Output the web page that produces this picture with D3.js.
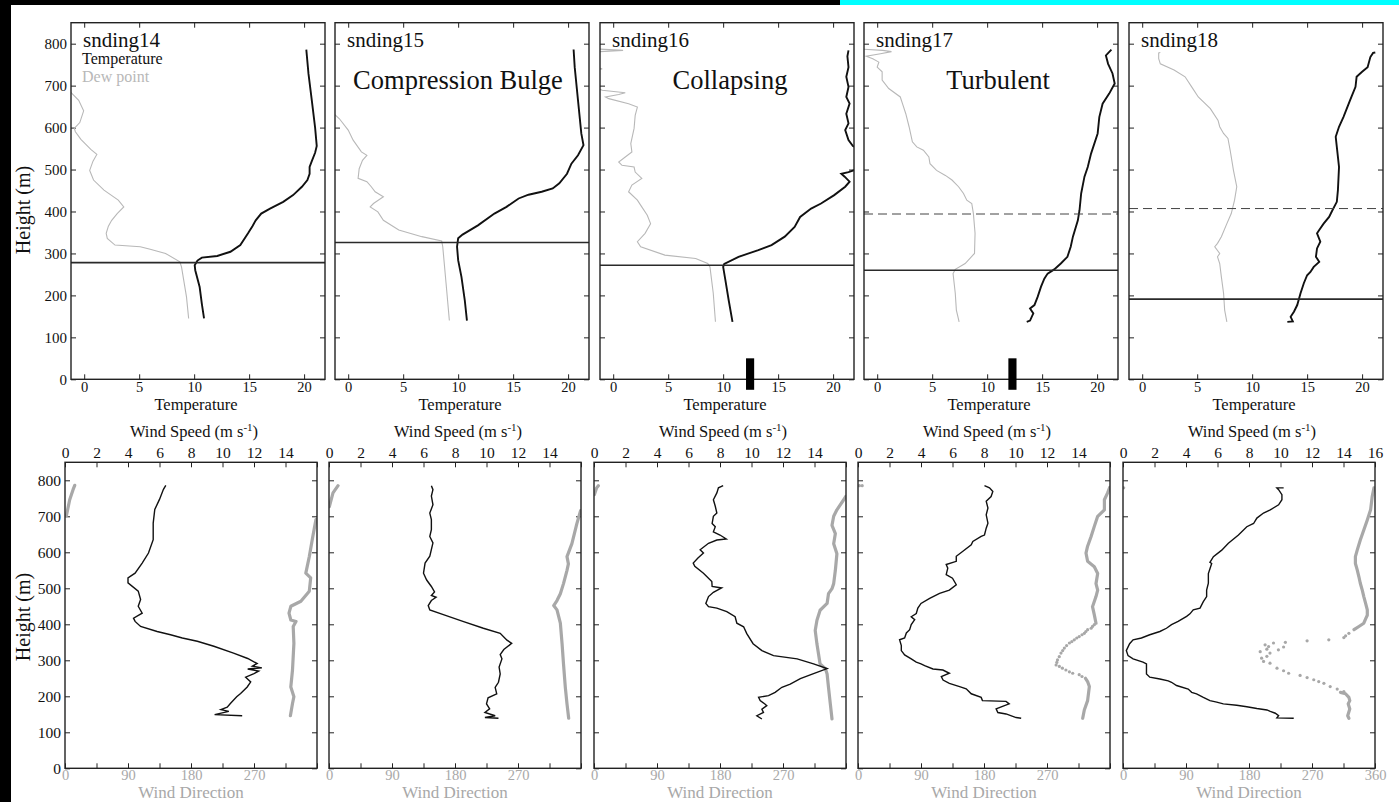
<!DOCTYPE html>
<html>
<head>
<meta charset="utf-8">
<script src="https://cdn.jsdelivr.net/npm/d3@7"></script>
<style>
  html, body { margin: 0; padding: 0; background: #fff; }
  svg { display: block; font-family: "Liberation Serif", "Times New Roman", serif; }
</style>
</head>
<body>
<svg id="chart" width="1399" height="802"></svg>
<script>
// ---- labels & ticks ----
const soundings = ["snding14", "snding15", "snding16", "snding17", "snding18"];
const regimes = ["", "Compression Bulge", "Collapsing", "Turbulent", ""];
const tempTicks = [0, 5, 10, 15, 20];
const heightTicks = [0, 100, 200, 300, 400, 500, 600, 700, 800];
const speedTicks = [0, 2, 4, 6, 8, 10, 12, 14, 16];
const dirTicks = [0, 45, 90, 135, 180, 225, 270, 315, 360];

// inversion heights (m) and the black markers on the temperature axis
const inversionSolid = [278, 326, 272, 260, 191];
const inversionDashed = [null, null, null, 394, 407];
const markerTemp = [null, null, 12.45, 12.3, null];
const markerRange = [-25, 50];

// ---- temperature profiles [height, degC] ----
const temp14 = [[145,10.9],[180,10.7],[220,10.5],[260,10.1],[272,10.05],[283,10.3],[290,10.7],[294,12.1],[304,13.3],[320,14.2],[348,14.9],[365,15.3],[379,15.6],[395,16.1],[407,16.9],[423,18.1],[439,19.0],[459,19.8],[475,20.3],[490,20.5],[506,20.5],[520,20.7],[540,21.0],[556,21.15],[600,21.0],[665,20.7],[728,20.4],[786,20.2]];
const dew14 = [[145,9.5],[197,9.3],[268,8.85],[280,8.7],[300,7.4],[310,6.0],[316,5.1],[320,2.8],[336,2.1],[348,2.0],[365,2.2],[379,2.5],[395,3.0],[411,3.6],[427,3.1],[451,1.8],[475,0.85],[498,0.5],[520,0.8],[536,1.15],[548,0.6],[572,-0.3],[590,-0.8],[598,-0.9],[612,-0.4],[640,-0.05],[665,-0.5],[681,-1.1],[700,-1.8]];

const temp15 = [[140,10.8],[189,10.6],[244,10.3],[284,10.0],[316,9.9],[336,10.0],[345,10.4],[367,11.8],[395,13.3],[411,14.4],[431,15.5],[440,16.4],[447,17.6],[455,18.6],[467,19.2],[490,19.9],[514,20.3],[534,20.9],[558,21.4],[586,21.2],[665,20.9],[744,20.6],[786,20.5]];
const dew15 = [[140,9.2],[229,8.9],[316,8.6],[330,8.5],[340,6.7],[356,4.6],[379,3.2],[399,2.7],[411,2.0],[419,2.3],[435,3.2],[447,2.45],[459,2.1],[471,1.7],[479,0.9],[502,1.0],[522,1.3],[534,1.7],[542,1.2],[570,0.45],[594,0.0],[621,-0.8],[640,-1.6]];

const temp16 = [[137,10.85],[189,10.5],[237,10.2],[268,10.0],[275,10.1],[292,11.4],[308,13.2],[320,14.4],[340,15.6],[363,16.5],[387,17.0],[407,18.0],[419,18.9],[439,20.1],[459,21.1],[471,21.5],[483,21.05],[490,20.75],[494,21.4],[500,22.1],[525,22.8],[550,22.3],[556,21.8],[570,21.4],[594,21.1],[610,21.4],[633,21.2],[657,21.5],[673,21.2],[697,21.4],[721,21.2],[744,21.4],[770,21.3],[784,21.4]];
const dew16 = [[137,9.3],[205,9.1],[268,8.8],[276,8.6],[288,7.5],[296,4.7],[316,2.5],[328,2.2],[348,2.9],[371,3.4],[391,3.1],[411,2.6],[427,2.2],[447,1.4],[463,1.7],[479,2.6],[494,2.0],[506,1.9],[510,0.8],[518,0.5],[530,1.1],[542,1.7],[562,1.6],[598,1.9],[629,2.0],[649,2.2],[657,1.4],[669,-0.4],[673,-0.7],[679,0.5],[683,1.1],[689,-1.0],[700,-2.0],[735,-2.0],[740,-1.0],[745,-2.0],[780,-2.0],[784,0.9],[788,-2.0]];

const temp17 = [[137,13.6],[140,13.9],[157,14.2],[169,13.9],[177,14.3],[197,14.6],[221,14.9],[240,15.2],[252,15.5],[262,16.1],[276,16.7],[292,17.3],[316,17.6],[340,17.8],[379,18.25],[403,18.4],[443,18.55],[483,18.85],[506,19.15],[538,19.45],[586,20.05],[625,20.2],[657,20.5],[681,21.1],[705,21.6],[729,21.4],[752,21.0],[772,20.8],[786,21.3]];
const dew17 = [[137,7.45],[165,7.2],[205,7.1],[252,6.9],[262,7.1],[276,8.0],[300,8.85],[348,8.9],[395,8.75],[419,8.6],[427,8.15],[443,7.85],[459,7.4],[475,6.8],[486,6.2],[498,5.4],[514,4.8],[530,4.7],[546,4.2],[554,3.6],[566,3.2],[602,2.9],[633,2.6],[657,2.3],[673,2.1],[693,1.05],[713,0.45],[733,0.45],[744,0.0],[756,0.15],[764,-0.4],[770,-1.0],[776,0.3],[781,1.3],[784,0.5],[787,-1.5]];

const temp18 = [[137,13.2],[138,13.7],[149,13.5],[161,13.8],[177,14.1],[205,14.4],[229,14.7],[248,15.0],[256,15.3],[268,15.6],[280,16.1],[292,15.8],[312,15.9],[328,16.2],[348,15.9],[356,16.1],[371,16.5],[387,17.0],[403,17.3],[423,17.7],[451,17.8],[506,17.9],[554,17.7],[578,17.6],[602,17.9],[625,18.3],[665,18.9],[697,19.4],[721,19.5],[733,20.0],[744,20.5],[768,20.75],[778,21.0],[779,21.2]];
const dew18 = [[137,7.7],[165,7.5],[205,7.4],[244,7.2],[276,7.05],[292,6.85],[300,7.05],[316,6.6],[324,6.85],[340,7.2],[371,7.7],[395,8.1],[427,8.4],[459,8.6],[498,8.3],[546,8.0],[574,7.8],[586,7.4],[602,7.05],[617,6.9],[645,6.2],[673,5.1],[697,4.5],[721,3.9],[737,2.9],[752,1.65],[764,1.5],[778,1.5],[779,1.65]];

// ---- wind speed [height, m/s] ----
const speed14 = [[146,11.25],[149,9.5],[158,10.4],[163,9.9],[170,10.3],[180,10.5],[199,10.9],[208,11.15],[226,11.57],[240,11.79],[253,11.47],[263,12.0],[270,12.3],[276,11.6],[279,12.5],[284,11.9],[291,12.2],[305,11.6],[320,10.7],[339,9.45],[353,8.4],[362,7.45],[371,6.7],[380,5.85],[394,4.8],[408,4.45],[417,4.35],[431,4.9],[450,4.65],[469,4.8],[492,4.65],[515,4.0],[529,4.0],[542,4.45],[570,4.9],[598,5.3],[635,5.6],[681,5.6],[719,5.7],[747,6.0],[775,6.25],[786,6.4]];
const speed15 = [[139,10.76],[141,9.9],[146,10.55],[155,9.9],[165,10.2],[179,10.0],[196,10.1],[207,10.65],[225,10.55],[239,10.76],[262,10.87],[281,10.8],[304,10.98],[316,10.87],[330,11.1],[347,11.6],[356,11.3],[375,10.87],[389,9.8],[408,8.5],[427,7.26],[440,6.4],[452,6.3],[466,6.5],[475,6.8],[480,6.5],[490,6.7],[505,6.5],[523,6.2],[542,6.0],[570,6.1],[589,6.4],[626,6.6],[644,6.4],[663,6.5],[691,6.5],[709,6.4],[732,6.6],[756,6.5],[774,6.6],[785,6.5]];
const speed16 = [[137,10.66],[146,10.34],[155,10.76],[164,10.66],[174,10.97],[178,10.87],[188,10.55],[197,10.45],[202,11.08],[211,11.5],[225,11.93],[234,12.46],[249,13.1],[263,13.94],[277,14.8],[290,13.94],[304,12.9],[313,11.4],[327,10.66],[346,10.1],[374,9.7],[393,9.5],[403,9.07],[421,8.96],[435,8.43],[445,7.8],[449,7.27],[458,7.1],[477,7.27],[489,7.58],[501,8.1],[505,7.5],[519,7.48],[542,6.95],[561,6.4],[570,6.3],[584,6.6],[598,6.95],[607,6.74],[625,7.27],[634,7.8],[637,8.4],[648,8.0],[657,7.58],[671,7.7],[680,7.5],[700,7.58],[709,7.8],[728,7.7],[746,7.58],[765,7.8],[779,7.9],[785,8.2]];
const speed17 = [[139,10.36],[141,10.04],[151,9.4],[155,8.88],[165,8.77],[174,9.3],[179,9.6],[186,9.4],[188,7.9],[197,7.82],[207,7.19],[221,6.87],[227,6.45],[236,5.8],[245,5.4],[255,5.29],[264,5.8],[273,5.39],[276,4.76],[285,4.23],[290,4.0],[295,3.7],[304,3.38],[315,2.96],[327,2.75],[341,2.75],[357,2.64],[362,2.96],[376,3.07],[385,3.28],[399,3.38],[413,3.6],[421,3.38],[430,3.7],[445,3.8],[458,4.0],[472,4.55],[486,5.18],[495,5.8],[510,6.24],[528,6.0],[538,5.6],[556,5.7],[566,5.6],[575,6.24],[589,6.24],[603,6.66],[621,7.19],[630,7.29],[644,7.82],[648,8.03],[667,8.14],[681,8.25],[704,8.14],[723,8.25],[742,8.14],[755,8.45],[769,8.56],[779,8.35],[785,8.03]];
const speed18 = [[139,10.84],[140,9.77],[146,9.88],[153,9.67],[158,9.35],[162,9.14],[166,8.5],[171,7.86],[175,7.22],[179,6.37],[184,5.95],[188,5.52],[197,5.1],[207,4.67],[211,4.36],[220,4.14],[230,3.4],[239,3.08],[243,2.87],[248,2.34],[253,1.7],[262,1.49],[290,1.49],[295,1.27],[304,0.64],[313,0.32],[327,0.21],[346,0.42],[357,0.64],[362,1.17],[371,1.7],[380,2.34],[389,2.76],[399,3.08],[408,3.5],[422,4.04],[429,4.25],[440,4.46],[445,4.89],[463,5.1],[477,5.31],[495,5.31],[514,5.42],[541,5.42],[569,5.63],[572,5.52],[588,5.74],[606,6.27],[625,6.69],[648,7.33],[671,7.86],[680,8.29],[695,8.5],[709,8.92],[718,9.35],[732,9.88],[746,10.09],[760,10.09],[774,9.88],[779,9.77],[779,10.2]];

// ---- wind direction [height, deg]; null breaks the trace (wrap past 360) ----
const dir14 = [[146,322],[180,325],[199,327],[226,322.6],[273,325],[347,327],[394,326],[408,330],[412,322.6],[431,320],[450,322.6],[464,337],[492,349],[529,351],[542,344],[588,349],[644,354],[691,358.5],null,[702,2],[746,6.7],[774,11.5],[786,13.9]];
const dir15 = [[139,342.4],[179,340],[225,337.6],[290,335],[345,333],[403,330.5],[440,325.7],[452,321],[466,325.7],[485,330.5],[513,335],[550,340],[568,342],[588,340],[624,347],[679,354],[716,359.5],null,[727,0.5],[765,5.7],[785,12.9]];
const dir16 = [[137,340],[179,337.6],[225,335],[262,333],[277,330.5],[290,323],[345,318.5],[383,316],[411,318.5],[439,323],[458,333],[485,335],[499,340],[513,342.4],[550,344.8],[596,347],[624,342.4],[652,344.8],[675,340],[700,342.4],[718,347],[746,356.7],[755,359.5],null,[760,0.5],[779,3.8],[785,6.2]];
const dir17 = [[139,321],[162,323.3],[188,328],[227,330.5],[241,328],[250,325],null,[403,340],[426,337.6],[449,335],[477,340],[495,342.4],[513,340],[541,342.4],[560,337.6],[575,328],[598,325.7],[617,328],[644,333],[672,337.6],[700,342.4],[718,352],[746,352],[765,356.6],[780,359.5]];
const dir18 = [[139,322.7],[146,321],[165,324],[179,321.7],[188,324],[197,322.7],[207,317.9],[211,310.7],null,[385,330],[394,337],[403,344],[415,346.6],[425,349],[440,349],[458,346.6],[477,344],[495,341.8],[514,339],[532,337],[551,334.6],[569,332],[588,332],[606,334.6],[634,339],[662,344],[690,349],[718,353.7],[755,356],[779,358.5]];

// sparse wind-direction samples (single dots)
const dirDots14 = [];
const dirDots15 = [];
const dirDots16 = [];
const dirDots17 = [[255,320],[260,316],[264,306.7],[268,302],[273,297],[278,292],[283,287.7],[287,283],[294,284],[301,285],[310,287.5],[320,290],[327,292.4],[334,294.8],[341,298],[348,302],[352,305.5],[357,309],[362,312.5],[366,316],[371,320],[375,323.3],[380,325.5],[385,328],[389,333],[394,335],[399,337.6],[785,2],[785,6]];
const dirDots18 = [[213,315.5],[220,306],[227,296],[236,287],[241,279.6],[246,272.5],[252,263],[258,253],[264,236.6],[271,229.4],[278,220],[292,210],[297,200.8],[306,198],[311,205.5],[320,210],[324,196],[331,205.5],[329,222],[338,208],[337,229.4],[343,203],[348,215],[350,232],[354,263],[357,294],[363,315.5],[368,318],[375,322.7],[779,1]];

const temps = [temp14, temp15, temp16, temp17, temp18];
const dews = [dew14, dew15, dew16, dew17, dew18];
const speeds = [speed14, speed15, speed16, speed17, speed18];
const dirs = [dir14, dir15, dir16, dir17, dir18];
const dirDots = [dirDots14, dirDots15, dirDots16, dirDots17, dirDots18];

// ---- layout ----
const TOP = { x: [71, 335, 600, 864, 1129], w: 254, y0: 22.7, y1: 379.3 };
const BOT = { x: [65, 329, 594, 858, 1123], w: 252, y0: 462.3, y1: 768.3 };
const REGIME_DX = [0, 123, 130, 134, 0];
const GRAY = "#a8a8a8";
const LIGHT = "#b8b8b8";

const svg = d3.select("#chart");

// page frame strips
svg.append("rect").attr("x", 0).attr("y", 0).attr("width", 11).attr("height", 802).attr("fill", "#000");
svg.append("rect").attr("x", 0).attr("y", 0).attr("width", 840).attr("height", 5).attr("fill", "#000");
svg.append("rect").attr("x", 840).attr("y", 0).attr("width", 559).attr("height", 5).attr("fill", "#00ffff");

function styleAxis(g, size, color) {
    g.select(".domain").remove();
    g.attr("font-family", null).attr("font-size", size);
    g.selectAll(".tick line").attr("stroke", "#222");
    g.selectAll(".tick text").attr("fill", color || "#111");
}

function frame(g, x0, y0, w, h) {
    g.append("rect")
        .attr("x", x0).attr("y", y0).attr("width", w).attr("height", h)
        .attr("fill", "none").attr("stroke", "#222").attr("stroke-width", 1.4);
}

function topPanel(i) {
    const x0 = TOP.x[i];
    const x = d3.scaleLinear().domain([-1.2, 21.9]).range([x0, x0 + TOP.w]);
    const y = d3.scaleLinear().domain([0, 850]).range([TOP.y1, TOP.y0]);
    const g = svg.append("g");

    const clip = "clipT" + i;
    svg.append("clipPath").attr("id", clip).append("rect")
        .attr("x", x0).attr("y", TOP.y0).attr("width", TOP.w).attr("height", TOP.y1 - TOP.y0);

    // axes (ticks inward on all four sides)
    g.append("g").attr("transform", `translate(0,${TOP.y1})`)
        .call(d3.axisBottom(x).tickValues(tempTicks).tickSize(-5).tickPadding(2))
        .call(a => styleAxis(a, 14.5));
    g.append("g").attr("transform", `translate(0,${TOP.y0})`)
        .call(d3.axisTop(x).tickValues(tempTicks).tickSize(-5).tickFormat(""))
        .call(a => styleAxis(a, 15));
    g.append("g").attr("transform", `translate(${x0},0)`)
        .call(d3.axisLeft(y).tickValues(heightTicks).tickSize(-5).tickPadding(4)
            .tickFormat(i === 0 ? d3.format("d") : ""))
        .call(a => styleAxis(a, 15));
    g.append("g").attr("transform", `translate(${x0 + TOP.w},0)`)
        .call(d3.axisRight(y).tickValues(heightTicks).tickSize(-5).tickFormat(""))
        .call(a => styleAxis(a, 15));

    const line = d3.line().x(d => x(d[1])).y(d => y(d[0]));
    const plot = g.append("g").attr("clip-path", `url(#${clip})`);

    plot.append("path").datum(dews[i]).attr("d", line)
        .attr("fill", "none").attr("stroke", LIGHT).attr("stroke-width", 1.1);
    plot.append("path").datum(temps[i]).attr("d", line)
        .attr("fill", "none").attr("stroke", "#111").attr("stroke-width", 1.9);

    plot.append("line")
        .attr("x1", x0).attr("x2", x0 + TOP.w)
        .attr("y1", y(inversionSolid[i])).attr("y2", y(inversionSolid[i]))
        .attr("stroke", "#2a2a2a").attr("stroke-width", 1.6);
    if (inversionDashed[i] !== null) {
        plot.append("line")
            .attr("x1", x0).attr("x2", x0 + TOP.w)
            .attr("y1", y(inversionDashed[i])).attr("y2", y(inversionDashed[i]))
            .attr("stroke", "#444").attr("stroke-width", 1).attr("stroke-dasharray", "9,5");
    }

    frame(g, x0, TOP.y0, TOP.w, TOP.y1 - TOP.y0);

    // black marker bar on the temperature axis
    if (markerTemp[i] !== null) {
        g.append("rect")
            .attr("x", x(markerTemp[i] - 0.37))
            .attr("width", x(markerTemp[i] + 0.37) - x(markerTemp[i] - 0.37))
            .attr("y", y(markerRange[1]))
            .attr("height", y(markerRange[0]) - y(markerRange[1]))
            .attr("fill", "#000");
    }

    // texts
    g.append("text").attr("x", x0 + 12).attr("y", 47)
        .attr("font-size", 21).attr("fill", "#111").text(soundings[i]);
    if (regimes[i]) {
        g.append("text").attr("x", x0 + REGIME_DX[i]).attr("y", 89)
            .attr("text-anchor", "middle").attr("font-size", 26.5).attr("fill", "#111")
            .text(regimes[i]);
    }
    g.append("text").attr("x", x0 + TOP.w / 2 - 2).attr("y", 410)
        .attr("text-anchor", "middle").attr("font-size", 16.5).attr("fill", "#111")
        .text("Temperature");

    if (i === 0) {
        g.append("text").attr("x", x0 + 11).attr("y", 63.5)
            .attr("font-size", 16).attr("fill", "#111").text("Temperature");
        g.append("text").attr("x", x0 + 11).attr("y", 82)
            .attr("font-size", 16).attr("fill", LIGHT).text("Dew point");
        g.append("text")
            .attr("transform", `translate(30,210) rotate(-90)`)
            .attr("text-anchor", "middle").attr("font-size", 20).attr("fill", "#111")
            .text("Height (m)");
    }
}

function bottomPanel(i) {
    const x0 = BOT.x[i];
    const last = i === 4;
    const xs = d3.scaleLinear().domain([0, 16]).range([x0, x0 + BOT.w]);
    const xd = d3.scaleLinear().domain([0, 360]).range([x0, x0 + BOT.w]);
    const y = d3.scaleLinear().domain([0, 850]).range([BOT.y1, BOT.y0]);
    const g = svg.append("g");

    const clip = "clipB" + i;
    svg.append("clipPath").attr("id", clip).append("rect")
        .attr("x", x0).attr("y", BOT.y0).attr("width", BOT.w).attr("height", BOT.y1 - BOT.y0);

    // wind direction along the bottom
    g.append("g").attr("transform", `translate(0,${BOT.y1})`)
        .call(d3.axisBottom(xd).tickValues(dirTicks).tickSize(-5).tickPadding(1.5)
            .tickFormat(d => (d % 90 === 0 && (d < 360 || last)) ? d : ""))
        .call(a => styleAxis(a, 14.5, GRAY));
    // wind speed along the top
    g.append("g").attr("transform", `translate(0,${BOT.y0})`)
        .call(d3.axisTop(xs).tickValues(speedTicks).tickSize(-5).tickPadding(4)
            .tickFormat(d => (d < 16 || last) ? d : ""))
        .call(a => styleAxis(a, 15.5));
    g.append("g").attr("transform", `translate(${x0},0)`)
        .call(d3.axisLeft(y).tickValues(heightTicks).tickSize(-5).tickPadding(4)
            .tickFormat(i === 0 ? d3.format("d") : ""))
        .call(a => styleAxis(a, 15.5));
    g.append("g").attr("transform", `translate(${x0 + BOT.w},0)`)
        .call(d3.axisRight(y).tickValues(heightTicks).tickSize(-5).tickFormat(""))
        .call(a => styleAxis(a, 15.5));

    const plot = g.append("g").attr("clip-path", `url(#${clip})`);

    const dirLine = d3.line().defined(d => d !== null).x(d => xd(d[1])).y(d => y(d[0]));
    plot.append("path").datum(dirs[i]).attr("d", dirLine)
        .attr("fill", "none").attr("stroke", GRAY).attr("stroke-width", 3.2)
        .attr("stroke-linejoin", "round").attr("stroke-linecap", "round");
    plot.selectAll("circle.dot").data(dirDots[i]).join("circle")
        .attr("class", "dot")
        .attr("cx", d => xd(d[1])).attr("cy", d => y(d[0])).attr("r", 1.6)
        .attr("fill", GRAY);

    const spdLine = d3.line().x(d => xs(d[1])).y(d => y(d[0]));
    plot.append("path").datum(speeds[i]).attr("d", spdLine)
        .attr("fill", "none").attr("stroke", "#111").attr("stroke-width", 1.4);

    frame(g, x0, BOT.y0, BOT.w, BOT.y1 - BOT.y0);

    // axis titles
    const ws = g.append("text").attr("x", x0 + BOT.w / 2 + 3).attr("y", 437)
        .attr("text-anchor", "middle").attr("font-size", 16.5).attr("fill", "#111");
    ws.append("tspan").text("Wind Speed (m s");
    ws.append("tspan").attr("font-size", 11).attr("dy", -6).text("-1");
    ws.append("tspan").attr("dy", 6).text(")");

    g.append("text").attr("x", x0 + BOT.w / 2).attr("y", 798)
        .attr("text-anchor", "middle").attr("font-size", 17).attr("fill", GRAY)
        .text("Wind Direction");

    if (i === 0) {
        g.append("text")
            .attr("transform", `translate(30,617) rotate(-90)`)
            .attr("text-anchor", "middle").attr("font-size", 20).attr("fill", "#111")
            .text("Height (m)");
    }
}

for (let i = 0; i < 5; i++) {
    topPanel(i);
    bottomPanel(i);
}
</script>
</body>
</html>
